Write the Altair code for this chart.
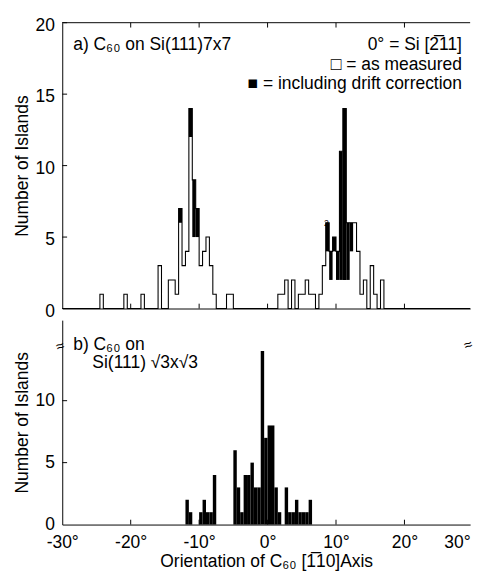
import altair as alt
import pandas as pd
import numpy as np

# ---------------- data (bin left edges in degrees, bin width 0.5 deg) ----------------
BIN = 0.5
# a) C60 on Si(111)7x7 : "as measured" histogram outline
top_edges = [-24.5, -21.0, -18.5, -16.0, -14.5, -14.0, -13.5, -13.0, -12.5, -12.0,
             -11.5, -11.0, -10.5, -10.0, -9.5, -9.0, -8.5, -8.0, -6.0, -5.5,
             1.5, 2.0, 2.5, 3.5, 4.5, 5.0, 5.5, 6.0, 6.5, 7.5,
             8.0, 8.5, 9.0, 9.5, 10.0, 10.5, 11.0, 11.5, 12.0, 12.5,
             13.0, 13.5, 14.0, 15.0, 15.5, 16.5]
top_counts = [1, 1, 1, 3, 2, 2, 1, 7, 3, 4,
              14, 9, 7, 3, 4, 5, 3, 1, 1, 1,
              1, 1, 2, 2, 1, 1, 2, 1, 1, 1,
              3, 6, 4, 5, 4, 11, 14, 6, 6, 6,
              4, 1, 2, 3, 1, 2]
# "including drift correction" filled segments
black_edges = [-13.0, -11.5, -11.0, -10.5, 8.5, 9.0, 9.5, 10.0, 10.5, 11.0, 11.5, 12.0]
black_low = [6, 12, 5, 5, 4, 2, 4, 2, 2, 2, 2, 4]
black_high = [7, 14, 9, 7, 6, 4, 5, 4, 11, 14, 6, 6]

# b) C60 on Si(111) sqrt3 x sqrt3
bottom_edges = [-12.0, -11.5, -10.0, -9.5, -9.0, -8.5, -8.0,
                -5.0, -4.5, -4.0, -3.5, -3.0, -2.5, -2.0, -1.5,
                -1.0, -0.5, 0.0, 0.5, 1.0, 1.5,
                2.5, 3.0, 3.5, 4.0, 4.5, 5.0, 5.5, 6.0]
bottom_counts = [2, 1, 1, 2, 1, 1, 4,
                 6, 3, 1, 4, 4, 5, 3, 3,
                 14, 7, 8, 8, 3, 1,
                 3, 1, 1, 2, 1, 1, 1, 2]

x_ticks = [-30, -20, -10, 0, 10, 20, 29.6]
x_inner_ticks = [-20, -10, 0, 10, 20]
top_y_ticks = [0, 5, 10, 15, 20]
bottom_y_ticks = [0, 5, 10]

# ---------------- tables ----------------
grid = np.round(np.arange(-30.0, 29.6, BIN), 2)
cmap = dict(zip(top_edges, top_counts))
step_df = pd.DataFrame({"deg": list(grid) + [29.6],
                        "cnt": [cmap.get(float(g), 0) for g in grid] + [0]})
black_df = pd.DataFrame({"lo": black_edges,
                         "hi": [e + BIN for e in black_edges],
                         "b_lo": black_low, "b_hi": black_high})
bot_df = pd.DataFrame({"lo": bottom_edges,
                       "hi": [e + BIN for e in bottom_edges],
                       "cnt": bottom_counts,
                       "zero": [0] * len(bottom_edges)})
xt_df = pd.DataFrame({"deg": x_inner_ticks})

FONT = "Liberation Sans"
FS = 18
W, H1, H2 = 421, 295, 211
xs = alt.Scale(domain=[-30, 29.6], nice=False, zero=False)
ys1 = alt.Scale(domain=[0, 20], nice=False)
ys2 = alt.Scale(domain=[0, 16.5], nice=False)

top_xaxis = alt.Axis(labels=False, ticks=False, grid=False, domainColor="black")
bot_xaxis = alt.Axis(values=x_ticks, ticks=False, grid=False, domainColor="black",
                     labelExpr="(datum.value > 29 ? '30' : toString(datum.value)) + '°'",
                     labelAlign={"condition": {"test": "datum.value > 29", "value": "right"},
                                 "value": "center"},
                     labelPadding=10, titlePadding=1)
XTITLE = "Orientation of C\u2086\u2080 [1\u030510]Axis"
YTITLE = "Number of Islands"


def X1(f):
    return alt.X(f, type="quantitative", scale=xs, axis=top_xaxis, title=None)


def X2(f):
    return alt.X(f, type="quantitative", scale=xs, axis=bot_xaxis, title=XTITLE)


def Y1(f):
    return alt.Y(f, type="quantitative", scale=ys1, title=YTITLE,
                 axis=alt.Axis(values=top_y_ticks, ticks=False, grid=False, labelPadding=8,
                               labelOffset=3, titlePadding=4, domainColor="black"))


def Y2(f):
    return alt.Y(f, type="quantitative", scale=ys2, title=YTITLE,
                 axis=alt.Axis(values=bottom_y_ticks, ticks=False, grid=False, labelPadding=8,
                               titlePadding=4, domainColor="black"))


# ---------------- top panel ----------------
t_black = alt.Chart(black_df).mark_rect(color="black").encode(
    x=X1("lo"), x2="hi", y=Y1("b_lo"), y2="b_hi")
t_line = alt.Chart(step_df).mark_line(interpolate="step-after", color="black",
                                      strokeWidth=1.1).encode(x=X1("deg"), y=Y1("cnt"))
t_tick_top = alt.Chart(xt_df).mark_rule(color="black").encode(
    x=X1("deg"), y=alt.value(0), y2=alt.value(5))
t_tick_bot = alt.Chart(xt_df).mark_rule(color="black").encode(
    x=X1("deg"), y=alt.value(H1), y2=alt.value(H1 - 5))
t_ytick = alt.Chart(pd.DataFrame({"cnt": top_y_ticks[1:]})).mark_rule(color="black").encode(
    y=Y1("cnt"), x=alt.value(0), x2=alt.value(5))
t_border = alt.Chart(pd.DataFrame({"a": [0]})).mark_rule(color="black").encode(
    x=alt.value(0), x2=alt.value(W), y=alt.value(0))

top_left_txt = pd.DataFrame({"deg": [-28.4], "cnt": [18.4],
                             "t": ["a) C\u2086\u2080 on Si(111)7x7"]})
top_right_txt = pd.DataFrame({"deg": [28.4, 28.4, 28.4], "cnt": [18.4, 17.0, 15.7],
                              "t": ["0° = Si [2\u030511]", "\u25a1  = as measured",
                                    "\u25a0  = including drift correction"]})
t_txt_l = alt.Chart(top_left_txt).mark_text(align="left", baseline="middle", font=FONT,
                                            fontSize=FS, color="black").encode(
    x=X1("deg"), y=Y1("cnt"), text="t")
t_txt_r = alt.Chart(top_right_txt).mark_text(align="right", baseline="middle", font=FONT,
                                             fontSize=FS, color="black").encode(
    x=X1("deg"), y=Y1("cnt"), text="t")
t_note = alt.Chart(pd.DataFrame({"deg": [8.6], "cnt": [6.0], "t": ["2"]})).mark_text(
    align="center", baseline="middle", font=FONT, fontSize=9, color="black").encode(
    x=X1("deg"), y=Y1("cnt"), text="t")

top = alt.layer(t_black, t_line, t_tick_top, t_tick_bot, t_ytick, t_border,
                t_txt_l, t_txt_r, t_note).properties(width=W, height=H1)

# ---------------- bottom panel ----------------
b_bars = alt.Chart(bot_df).mark_rect(color="black").encode(
    x=X2("lo"), x2="hi", y=Y2("zero"), y2="cnt")
b_tick = alt.Chart(xt_df).mark_rule(color="black").encode(
    x=X2("deg"), y=alt.value(H2), y2=alt.value(H2 - 5))
b_ytick = alt.Chart(pd.DataFrame({"cnt": bottom_y_ticks[1:]})).mark_rule(color="black").encode(
    y=Y2("cnt"), x=alt.value(0), x2=alt.value(5))
bot_txt = pd.DataFrame({"deg": [-28.4, -25.6], "cnt": [14.5, 13.05],
                        "t": ["b) C\u2086\u2080 on", "Si(111) \u221a3x\u221a3"]})
b_txt = alt.Chart(bot_txt).mark_text(align="left", baseline="middle", font=FONT,
                                     fontSize=FS, color="black").encode(
    x=X2("deg"), y=Y2("cnt"), text="t")
brk = pd.DataFrame({"deg": [-30.3, 29.3], "cnt": [14.4, 14.5], "t": ["\u2248", "\u2248"]})
b_brk = alt.Chart(brk).mark_text(align="center", baseline="middle", font=FONT,
                                 fontSize=15, color="black", angle=340).encode(
    x=X2("deg"), y=Y2("cnt"), text="t")

bottom = alt.layer(b_bars, b_tick, b_ytick, b_txt, b_brk).properties(width=W, height=H2)

chart = alt.vconcat(top, bottom, spacing=0).configure(
    padding={"left": 5, "top": 0, "right": 0, "bottom": 0}
).configure_view(stroke=None).configure_axis(
    labelFont=FONT, titleFont=FONT, labelFontSize=FS, titleFontSize=FS,
    titleFontWeight="normal", labelColor="black", titleColor="black"
)

chart.save("out.html", embed_options={"renderer": "svg", "actions": False})
